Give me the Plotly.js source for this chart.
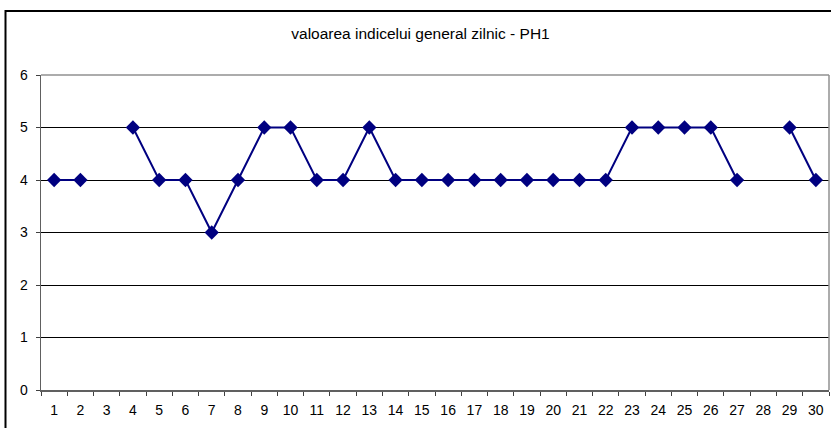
<!DOCTYPE html>
<html>
<head>
<meta charset="utf-8">
<script src="https://cdn.plot.ly/plotly-3.0.1.min.js"></script>
<style>
html,body{margin:0;padding:0;background:#fff;overflow:hidden;}
#chart{width:831px;height:428px;}
</style>
</head>
<body>
<div id="chart"></div>
<script>
const titleText = "valoarea indicelui general zilnic - PH1";
const days = ["1","2","3","4","5","6","7","8","9","10","11","12","13","14","15","16","17","18","19","20","21","22","23","24","25","26","27","28","29","30"];
const values = [4,4,null,5,4,4,3,4,5,5,4,4,5,4,4,4,4,4,4,4,4,4,5,5,5,5,4,null,5,4];
const yTicks = [0,1,2,3,4,5,6];

const W = 831, H = 428;
const mL = 41, mR = 2, mT = 75, mB = 38;
const pw = W - mL - mR, ph = H - mT - mB;
function px2x(p){ return (p - mL) / pw; }
function py2y(p){ return (H - mB - p) / ph; }

const FONT = 'Liberation Sans, Arial, sans-serif';

const trace = {
  x: days,
  y: values,
  type: 'scatter',
  mode: 'lines+markers',
  connectgaps: false,
  line: {color: '#000080', width: 2},
  marker: {symbol: 'diamond', size: 11, color: '#000080'},
  hoverinfo: 'x+y'
};

const layout = {
  width: W, height: H,
  margin: {l: mL, r: mR, t: mT, b: mB, pad: 0},
  paper_bgcolor: '#ffffff',
  plot_bgcolor: '#ffffff',
  showlegend: false,
  font: {family: FONT, size: 14, color: '#000'},
  title: {
    text: titleText,
    font: {family: FONT, size: 15.5, color: '#000'},
    xref: 'container', x: 420.5 / W, xanchor: 'center',
    yref: 'container', y: 1 - 33.5 / H, yanchor: 'middle'
  },
  xaxis: {
    type: 'category',
    categoryorder: 'array',
    categoryarray: days,
    range: [-0.5, days.length - 0.5],
    tickson: 'boundaries',
    ticks: 'outside', ticklen: 4, tickcolor: '#404040', tickwidth: 1,
    ticklabelstandoff: 7,
    showgrid: false,
    showline: true, linecolor: '#606060', linewidth: 1.5,
    zeroline: false,
    tickfont: {family: FONT, size: 14, color: '#000'},
    fixedrange: true
  },
  yaxis: {
    range: [0, 6],
    tickmode: 'array',
    tickvals: yTicks,
    ticktext: yTicks.map(String),
    ticks: 'outside', ticklen: 4, tickcolor: '#404040', tickwidth: 1,
    ticklabelstandoff: 5,
    showgrid: true, gridcolor: '#000000', gridwidth: 1,
    showline: true, linecolor: '#606060', linewidth: 1.5,
    zeroline: false,
    tickfont: {family: FONT, size: 14, color: '#000'},
    fixedrange: true
  },
  shapes: [
    {type: 'line', xref: 'paper', yref: 'paper', x0: 0, x1: 1, y0: 1, y1: 1,
     line: {color: '#909090', width: 1.5}, layer: 'above'},
    {type: 'line', xref: 'paper', yref: 'paper', x0: 1, x1: 1, y0: 0, y1: 1,
     line: {color: '#909090', width: 1.5}, layer: 'above'},
    {type: 'line', xref: 'paper', yref: 'paper',
     x0: px2x(5), x1: px2x(845), y0: py2y(11), y1: py2y(11),
     line: {color: '#000000', width: 2}, layer: 'above'},
    {type: 'line', xref: 'paper', yref: 'paper',
     x0: px2x(5.5), x1: px2x(5.5), y0: py2y(10), y1: py2y(445),
     line: {color: '#000000', width: 2}, layer: 'above'}
  ]
};

Plotly.newPlot('chart', [trace], layout, {displayModeBar: false, staticPlot: true});
</script>
</body>
</html>
